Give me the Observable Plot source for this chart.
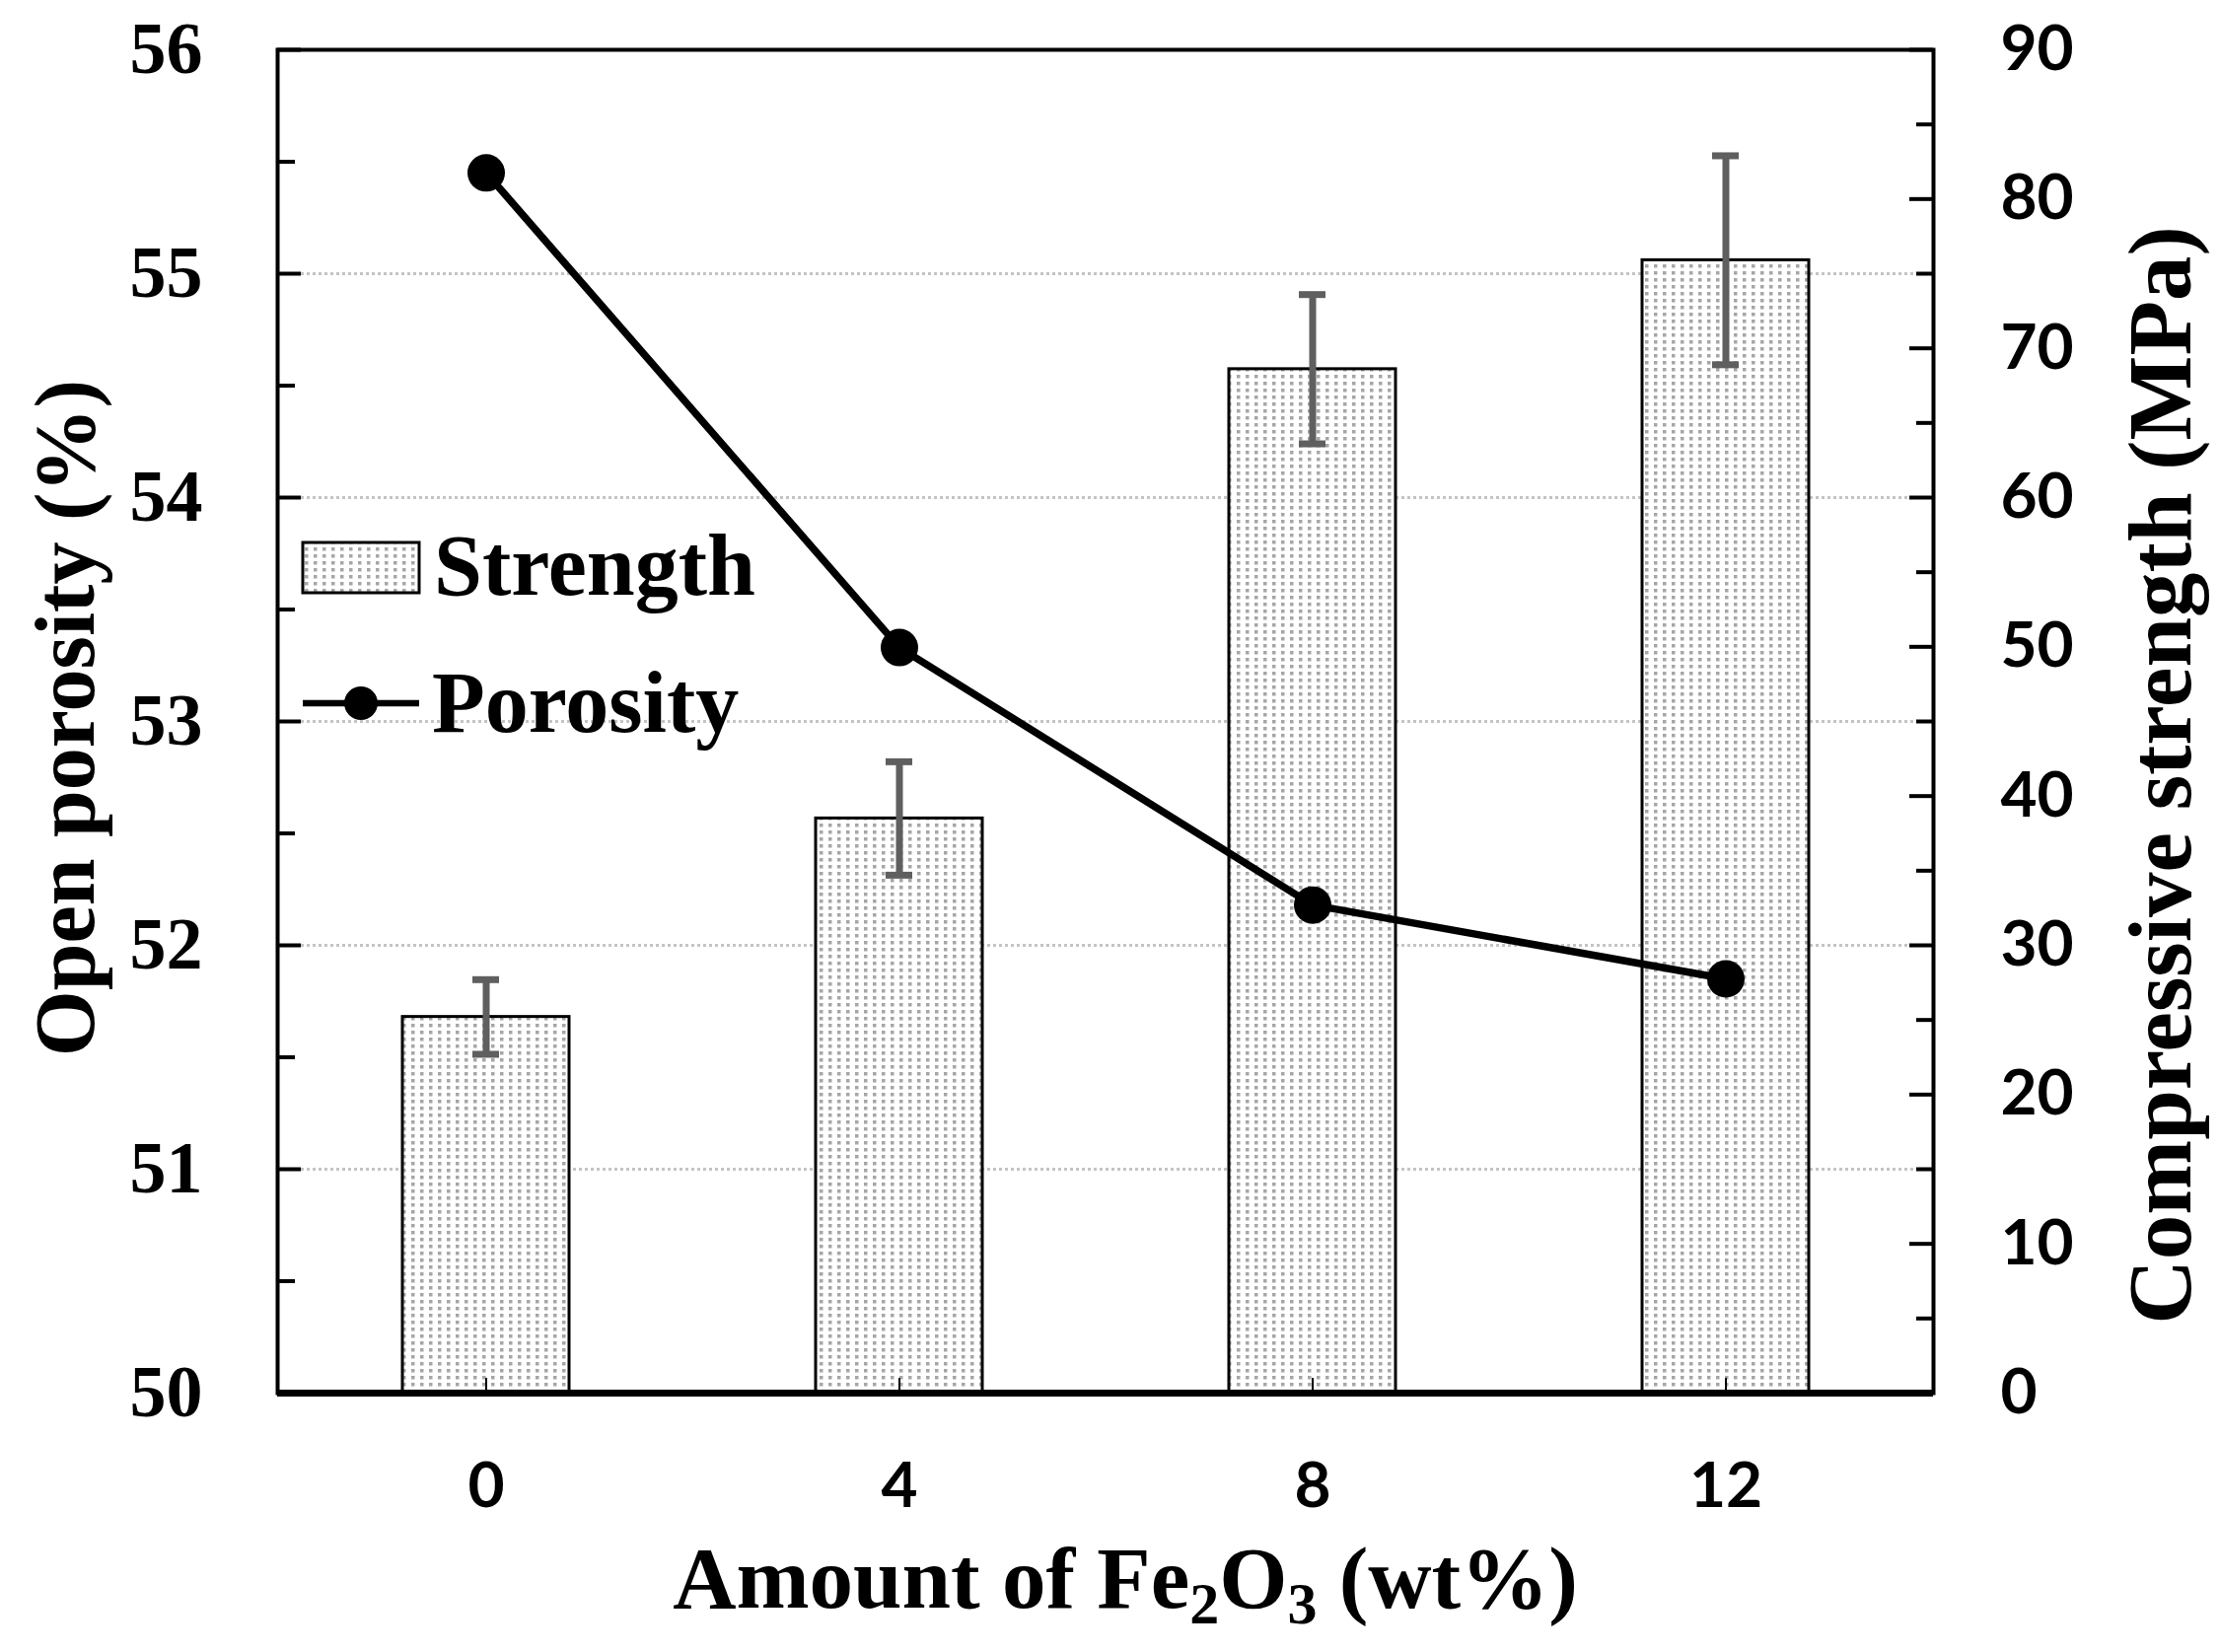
<!DOCTYPE html>
<html>
<head>
<meta charset="utf-8">
<script src="https://cdn.jsdelivr.net/npm/d3@7"></script>
<script src="https://cdn.jsdelivr.net/npm/@observablehq/plot@0.6"></script>
<style>
  html, body { margin: 0; padding: 0; background: white; }
  #chart svg { display: block; }
</style>
</head>
<body>
<div id="chart"></div>
<script>
// ---- data ----
const categories = ["0", "4", "8", "12"];          // Amount of Fe2O3 (wt%)
const porosity = [55.45, 53.33, 52.18, 51.85];      // Open porosity (%)
const strength = [25.2, 38.5, 68.6, 75.9];          // Compressive strength (MPa)
const strengthErr = [2.5, 3.8, 5.0, 7.0];           // error bar half-range (MPa)
const leftTicks = [50, 51, 52, 53, 54, 55, 56];
const leftMinor = [50.5, 51.5, 52.5, 53.5, 54.5, 55.5];
const gridValues = [51, 52, 53, 54, 55];
const rightTicks = [0, 10, 20, 30, 40, 50, 60, 70, 80, 90];
const rightMinor = [5, 15, 25, 35, 45, 55, 65, 75, 85];

// right axis (0–90 MPa) mapped onto left axis (50–56 %)
const toY = s => 50 + s * 6 / 90;

const rows = categories.map((c, i) => ({
  c, p: porosity[i], s: strength[i], e: strengthErr[i]
}));

const W = 2250, H = 1675;
const mL = 281, mR = 290, mT = 50, mB = 263;
const plotW = W - mL - mR, plotH = H - mT - mB;
const serif = "Liberation Serif";
const sans = "Lato";

const chart = Plot.plot({
  width: W, height: H,
  marginLeft: mL, marginRight: mR, marginTop: mT, marginBottom: mB,
  x: {type: "band", domain: categories, padding: 0, axis: null},
  y: {domain: [50, 56], axis: null},
  style: {background: "white", color: "black", overflow: "visible"},
  marks: [
    Plot.ruleY(gridValues, {stroke: "#c4c4c4", strokeWidth: 3, strokeDasharray: "3,3"}),
    Plot.barY(rows, {x: "c", y1: 50, y2: d => toY(d.s), fill: "url(#dots)", stroke: "black", strokeWidth: 3, insetLeft: 125, insetRight: 125}),
    Plot.ruleX(rows, {x: "c", y1: d => toY(d.s - d.e), y2: d => toY(d.s + d.e), stroke: "#5f5f5f", strokeWidth: 7}),
    Plot.tickY(rows, {x: "c", y: d => toY(d.s + d.e), stroke: "#5f5f5f", strokeWidth: 7, insetLeft: 196, insetRight: 196}),
    Plot.tickY(rows, {x: "c", y: d => toY(d.s - d.e), stroke: "#5f5f5f", strokeWidth: 7, insetLeft: 196, insetRight: 196}),
    Plot.line(rows, {x: "c", y: "p", stroke: "black", strokeWidth: 7.5}),
    Plot.dot(rows, {x: "c", y: "p", r: 19, fill: "black", stroke: "none"}),
    // inward ticks
    Plot.tickY(leftTicks, {y: d => d, stroke: "black", strokeWidth: 4, insetRight: plotW - 24}),
    Plot.tickY(leftMinor, {y: d => d, stroke: "black", strokeWidth: 4, insetRight: plotW - 18}),
    Plot.tickY(rightTicks, {y: d => toY(d), stroke: "black", strokeWidth: 4, insetLeft: plotW - 24}),
    Plot.tickY(rightMinor, {y: d => toY(d), stroke: "black", strokeWidth: 4, insetLeft: plotW - 17}),
    Plot.tickX(categories, {x: d => d, stroke: "black", strokeWidth: 2, insetTop: plotH - 15}),
    Plot.frame({stroke: "black", strokeWidth: 4}),
    Plot.ruleY([50], {stroke: "black", strokeWidth: 7}),
    // tick labels
    Plot.axisY(leftTicks, {anchor: "left", tickSize: 0, tickPadding: 76, label: null,
      tickFormat: d => String(d),
      fontFamily: serif, fontWeight: "bold", fontSize: 74}),
    Plot.axisY(rightTicks.map(toY), {anchor: "right", tickSize: 0, tickPadding: 68, label: null,
      tickFormat: d => String(Math.round((d - 50) * 15)),
      fontFamily: sans, fontWeight: "bold", fontSize: 64}),
    Plot.axisX(categories, {anchor: "bottom", tickSize: 0, tickPadding: 70, label: null,
      fontFamily: sans, fontWeight: "bold", fontSize: 64})
  ]
});

const svg = d3.select(chart);
const defs = svg.insert("defs", ":first-child");
const pat = defs.append("pattern").attr("id", "dots").attr("patternUnits", "userSpaceOnUse")
  .attr("width", 9).attr("height", 7);
pat.append("rect").attr("width", 9).attr("height", 7).attr("fill", "white");
pat.append("rect").attr("x", 3).attr("y", 2).attr("width", 3.5).attr("height", 3.5).attr("fill", "#a6a6a6");

const titleStyle = (t, size) => t.attr("font-family", serif).attr("font-weight", "bold")
  .attr("font-size", size).attr("fill", "black");

// x title with subscripts
const xt = titleStyle(svg.append("text"), 89).attr("x", 1141).attr("y", 1630).attr("text-anchor", "middle");
xt.append("tspan").text("Amount of Fe");
xt.append("tspan").attr("font-size", 60).attr("dy", 16).text("2");
xt.append("tspan").attr("dy", -16).text("O");
xt.append("tspan").attr("font-size", 60).attr("dy", 16).text("3");
xt.append("tspan").attr("dy", -16).text(" (wt%)");

titleStyle(svg.append("text"), 86).attr("text-anchor", "middle")
  .attr("transform", "translate(95,728) rotate(-90)").text("Open porosity (%)");
titleStyle(svg.append("text"), 91).attr("text-anchor", "middle")
  .attr("transform", "translate(2221,786) rotate(-90)").text("Compressive strength (MPa)");

// legend
const lg = svg.append("g").attr("text-anchor", "start");
lg.append("rect").attr("x", 307).attr("y", 550).attr("width", 118).attr("height", 51)
  .attr("fill", "url(#dots)").attr("stroke", "black").attr("stroke-width", 3);
titleStyle(lg.append("text"), 88).attr("text-anchor", "start").attr("x", 440).attr("y", 603).text("Strength");
lg.append("line").attr("x1", 307).attr("x2", 425).attr("y1", 713).attr("y2", 713)
  .attr("stroke", "black").attr("stroke-width", 6.5);
lg.append("circle").attr("cx", 366).attr("cy", 713).attr("r", 17).attr("fill", "black");
titleStyle(lg.append("text"), 88).attr("text-anchor", "start").attr("x", 438).attr("y", 742).text("Porosity");

document.getElementById("chart").appendChild(chart);
</script>
</body>
</html>
